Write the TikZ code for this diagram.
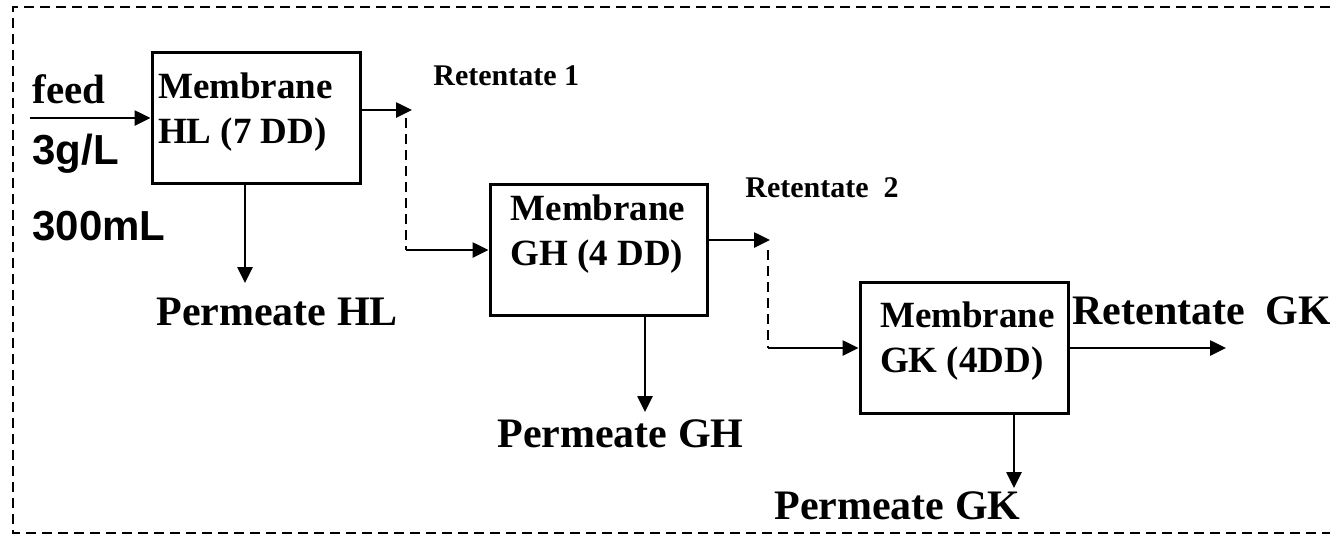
\documentclass[tikz,border=0pt]{standalone}
\usepackage{fontspec}
\setmainfont{Liberation Serif}
\newfontfamily\arialfont{Liberation Sans}
\usetikzlibrary{arrows.meta}

\begin{document}
\begin{tikzpicture}[x=0.5pt, y=-0.5pt,
		>={Triangle[length=8pt,width=7.5pt]},
		flow/.style={line width=1.3pt, ->},
		link/.style={line width=1.3pt, dash pattern=on 5pt off 3pt},
		memb/.style={draw, line width=1.5pt, inner sep=0pt, minimum width=104pt, minimum height=65.5pt},
		membtext/.style={font=\fontsize{18.5}{22.5}\selectfont\bfseries, align=left, inner sep=0pt},
		stream/.style={font=\fontsize{21}{25}\selectfont\bfseries, anchor=base west, inner sep=0pt},
		tag/.style={font=\fontsize{15}{18}\selectfont\bfseries, anchor=base west, inner sep=0pt}]
		\useasboundingbox (0,0) rectangle (1330,537);
		
		% Marco discontinuo (abierto a la derecha)
		\draw[line width=1.4pt, dash pattern=on 5pt off 3pt] (1330,7) -- (13,7) -- (13,533) -- (1330,533);
		
		% Membranas
		\node[memb] (hl) at (256,118) {};
		\node[memb, minimum width=108.5pt] (gh) at (598.5,249.5) {};
		\node[memb] (gk) at (964,347.5) {};
		\node[membtext] (hltext) at (245.5,112) {Membrane\\HL (7 DD)};
		\node[membtext] (ghtext) at (598,234) {Membrane\\GH (4 DD)};
		\node[membtext] (gktext) at (967.5,341) {Membrane\\GK (4DD)};
		
		% Alimentacion
		\node[stream, font=\fontsize{20.5}{25}\selectfont\bfseries] (feed) at (32,103) {feed};
		\node[stream, font=\fontsize{21}{25}\selectfont\arialfont\bfseries] (conc) at (32,164) {3g/L};
		\node[stream, font=\fontsize{21}{25}\selectfont\arialfont\bfseries] (vol) at (32,240) {300mL};
		\coordinate (fin) at (30,118);
		\draw[flow] (fin) -- (hl.west);
		
		% Retentados
		\node[tag] (ret1) at (433,85) {Retentate 1};
		\node[tag] (ret2) at (745,197) {Retentate\ \ 2};
		\node[stream] (retgk) at (1072,324) {Retentate\ \ GK};
		\coordinate (r1) at (412,110);
		\coordinate (r1a) at (406,118);
		\coordinate (r1b) at (406,250);
		\coordinate (r2) at (770,240);
		\coordinate (r2a) at (768,250);
		\coordinate (r2b) at (768,348);
		\coordinate (rgk) at (1226,348);
		\draw[flow] (hl.east |- r1) -- (r1);
		\draw[link] (r1a) -- (r1b);
		\draw[flow] (r1b) -- (gh.west |- r1b);
		\draw[flow] (gh.east |- r2) -- (r2);
		\draw[link] (r2a) -- (r2b);
		\draw[flow] (r2b) -- (gk.west |- r2b);
		\draw[flow] (gk.east |- rgk) -- (rgk);
		
		% Permeados
		\node[stream] (phl) at (156,325) {Permeate HL};
		\node[stream] (pgh) at (497,447) {Permeate GH};
		\node[stream] (pgk) at (774,519) {Permeate GK};
		\coordinate (phlend) at (245,283);
		\coordinate (pghend) at (645,412);
		\coordinate (pgkend) at (1014,488);
		\draw[flow] (hl.south -| phlend) -- (phlend);
		\draw[flow] (gh.south -| pghend) -- (pghend);
		\draw[flow] (gk.south -| pgkend) -- (pgkend);
	\end{tikzpicture}
\end{document}
